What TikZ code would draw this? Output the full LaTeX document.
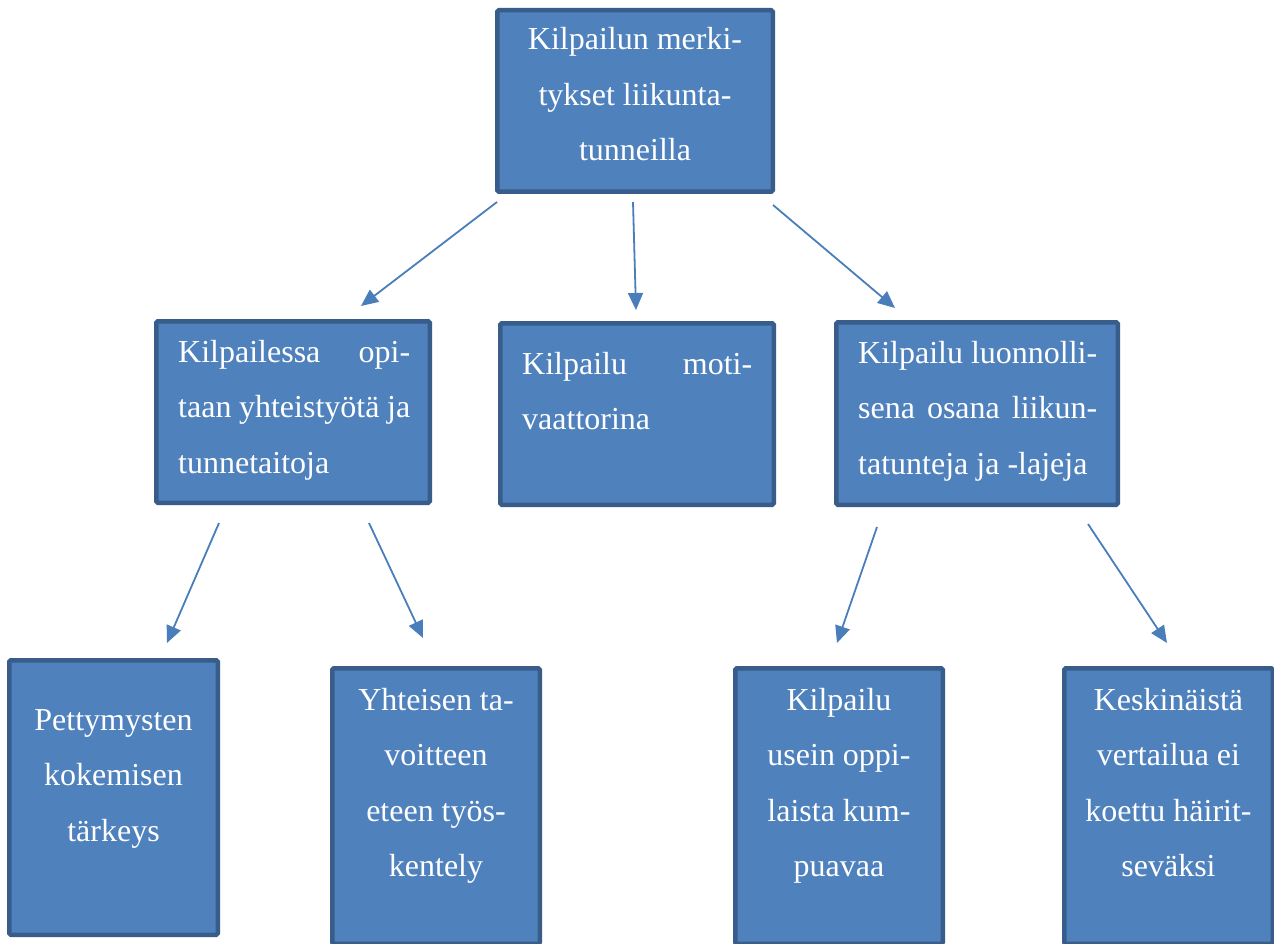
\documentclass[tikz,border=0pt]{standalone}
\usepackage{fontspec}
\setmainfont{Liberation Serif}
\usetikzlibrary{arrows.meta}
\definecolor{boxfill}{HTML}{4F81BD}
\definecolor{boxline}{HTML}{385D8A}
\definecolor{arrowcol}{HTML}{4A7EBB}
\tikzset{
  boxnode/.style={draw=boxline, fill=boxfill, line width=4.5pt, rounded corners=1.5pt, rectangle, inner sep=0pt},
  txt/.style={text=white, inner sep=0pt, font=\fontsize{32}{55.5}\selectfont},
  conn/.style={draw=arrowcol, line width=1.8pt, -{Triangle[length=17pt,width=15pt]}}
}
\begin{document}
\begin{tikzpicture}[x=1pt,y=-1pt]
\clip (0,0) rectangle (1274,944);
\fill[white] (0,0) rectangle (1274,944);
% boxes
\node[boxnode, minimum width=275.5pt, minimum height=181.5pt] (top) at (635,101) {};
\node[boxnode, minimum width=273.5pt, minimum height=181.5pt] (ml) at (293,412) {};
\node[boxnode, minimum width=273.5pt, minimum height=181.5pt] (mc) at (637,414) {};
\node[boxnode, minimum width=281.5pt, minimum height=182.5pt] (mr) at (977,413.5) {};
\node[boxnode, minimum width=208.5pt, minimum height=274.5pt] (b1) at (113.5,797.5) {};
\node[boxnode, minimum width=207.5pt, minimum height=275.5pt] (b2) at (436,806) {};
\node[boxnode, minimum width=207.5pt, minimum height=275.5pt] (b3) at (839,806) {};
\node[boxnode, minimum width=208.5pt, minimum height=275.5pt] (b4) at (1168.5,806) {};
% texts
\node[txt, anchor=base] (ttop) at (635,50) {\parbox[t]{260pt}{\centering Kilpailun merki-\\tykset liikunta-\\tunneilla}};
\node[txt, anchor=base west] (tml) at (178,362) {\parbox[t]{232pt}{\makebox[232pt][s]{Kilpailessa opi-}\\\makebox[232pt][s]{taan yhteistyötä ja}\\tunnetaitoja}};
\node[txt, anchor=base west] (tmc) at (522,374) {\parbox[t]{230pt}{\makebox[230pt][s]{Kilpailu moti-}\\vaattorina}};
\node[txt, anchor=base west] (tmr) at (858,363) {\parbox[t]{239pt}{\makebox[239pt][s]{Kilpailu luonnolli-}\\\makebox[239pt][s]{sena osana liikun-}\\tatunteja ja -lajeja}};
\node[txt, anchor=base] (tb1) at (113.5,730) {\parbox[t]{200pt}{\centering Pettymysten\\kokemisen\\tärkeys}};
\node[txt, anchor=base] (tb2) at (436,710) {\parbox[t]{200pt}{\centering Yhteisen ta-\\voitteen\\eteen työs-\\kentely}};
\node[txt, anchor=base] (tb3) at (839,710) {\parbox[t]{200pt}{\centering Kilpailu\\usein oppi-\\laista kum-\\puavaa}};
\node[txt, anchor=base] (tb4) at (1168.5,710) {\parbox[t]{200pt}{\centering Keskinäistä\\vertailua ei\\koettu häirit-\\seväksi}};
% connector ends
\coordinate (s1) at (497,202); \coordinate (e1) at (361,306);
\coordinate (s2) at (633,202); \coordinate (e2) at (636,310);
\coordinate (s3) at (773,205); \coordinate (e3) at (895,308);
\coordinate (s4) at (219,523); \coordinate (e4) at (167,643);
\coordinate (s5) at (369,523); \coordinate (e5) at (423,638);
\coordinate (s6) at (877,527); \coordinate (e6) at (837,643);
\coordinate (s7) at (1088,524); \coordinate (e7) at (1167,643);
\draw[conn] (s1) -- (e1);
\draw[conn] (s2) -- (e2);
\draw[conn] (s3) -- (e3);
\draw[conn] (s4) -- (e4);
\draw[conn] (s5) -- (e5);
\draw[conn] (s6) -- (e6);
\draw[conn] (s7) -- (e7);
\end{tikzpicture}
\end{document}
